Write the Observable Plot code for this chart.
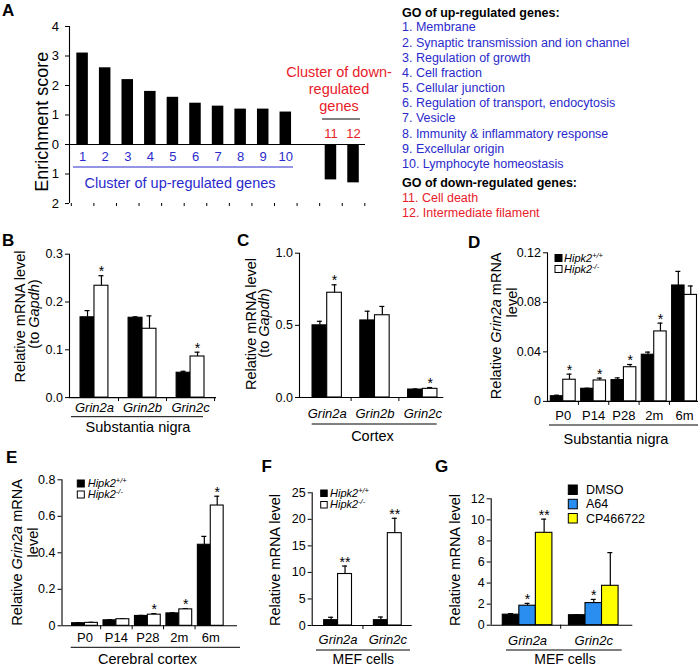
<!DOCTYPE html>
<html><head><meta charset="utf-8">
<script src="https://cdn.jsdelivr.net/npm/d3@7"></script>
<script src="https://cdn.jsdelivr.net/npm/@observablehq/plot@0.6"></script>
<style>
html,body{margin:0;padding:0;background:#fff;}
#fig{position:relative;width:700px;height:668px;overflow:hidden;font-family:"Liberation Sans",Arial,Helvetica,sans-serif;background:#fff;}
</style></head><body><div id="fig"></div>
<script>
// ---------------- DATA ----------------
// Panel A
const clusterIds = ["1","2","3","4","5","6","7","8","9","10","11","12"];
const clusterDirection = ["up","up","up","up","up","up","up","up","up","up","down","down"];
const enrichmentScores = [3.1, 2.6, 2.2, 1.8, 1.6, 1.4, 1.3, 1.2, 1.2, 1.1, -1.2, -1.3];
const enrichmentTicks = [-2, -1, 0, 1, 2, 3, 4];
const goUpTerms = ["Membrane","Synaptic transmission and ion channel","Regulation of growth","Cell fraction","Cellular junction","Regulation of transport, endocytosis","Vesicle","Immunity & inflammatory response","Excellular origin","Lymphocyte homeostasis"];
const goDownTerms = ["Cell death","Intermediate filament"];

// Panel B (substantia nigra)
const bGenes = ["Grin2a","Grin2b","Grin2c"];
const bWT = [0.168, 0.167, 0.052];
const bWTErr = [0.014, 0.002, 0.003];
const bKO = [0.234, 0.144, 0.086];
const bKOErr = [0.021, 0.027, 0.009];
const bKOSig = ["*", "", "*"];
const bTicks = [0, 0.1, 0.2, 0.3];

// Panel C (cortex)
const cGenes = ["Grin2a","Grin2b","Grin2c"];
const cWT = [0.50, 0.534, 0.055];
const cWTErr = [0.028, 0.064, 0.004];
const cKO = [0.726, 0.570, 0.060];
const cKOErr = [0.055, 0.061, 0.009];
const cKOSig = ["*", "", "*"];
const cTicks = [0, 0.5, 1.0];

// Panel D (substantia nigra, Grin2a by age)
const ages = ["P0","P14","P28","2m","6m"];
const dWT = [0.0042, 0.0102, 0.0172, 0.0377, 0.0936];
const dWTErr = [0.0008, 0.0004, 0.0018, 0.0021, 0.0114];
const dKO = [0.0175, 0.0169, 0.0276, 0.0565, 0.0860];
const dKOErr = [0.0045, 0.0019, 0.0022, 0.0067, 0.0072];
const dKOSig = ["*","*","*","*",""];
const dTicks = [0, 0.04, 0.08, 0.12];

// Panel E (cerebral cortex, Grin2a by age)
const eWT = [0.014, 0.030, 0.054, 0.068, 0.444];
const eWTErr = [0.003, 0.003, 0.003, 0.003, 0.046];
const eKO = [0.016, 0.036, 0.061, 0.090, 0.659];
const eKOErr = [0.003, 0.003, 0.006, 0.004, 0.051];
const eKOSig = ["","","*","*","*"];
const eTicks = [0, 0.2, 0.4, 0.6, 0.8];

// Panel F (MEF cells)
const fGenes = ["Grin2a","Grin2c"];
const fWT = [1.0, 1.0];
const fWTErr = [0.55, 0.6];
const fKO = [9.7, 17.4];
const fKOErr = [1.5, 2.8];
const fKOSig = ["**","**"];
const fTicks = [0, 5, 10, 15, 20, 25];

// Panel G (MEF cells, treatments)
const gGenes = ["Grin2a","Grin2c"];
const treatments = ["DMSO","A64","CP466722"];
const gDMSO = [1.0, 0.95];
const gDMSOErr = [0.1, 0.03];
const gA64 = [1.85, 2.1];
const gA64Err = [0.22, 0.35];
const gA64Sig = ["*","*"];
const gCP = [8.77, 3.74];
const gCPErr = [1.3, 3.15];
const gCPSig = ["**",""];
const gTicks = [0, 2, 4, 6, 8, 10, 12];

// ---------------- STYLE ----------------
const FONT = '"Liberation Sans", Arial, Helvetica, sans-serif';
const BLUE_TXT = "#2a2acc";
const RED_TXT = "#e8202a";
const BAR_BLUE = "#2a8ef0";
const BAR_YELLOW = "#ffff00";
const W = 700, H = 668;
const fig = document.getElementById("fig");

function basePlot({left, right, top, bottom, xDomain, yDomain, marks}) {
  const p = Plot.plot({
    width: W, height: H,
    marginLeft: left, marginRight: W - right, marginTop: top, marginBottom: H - bottom,
    x: {type: "linear", domain: xDomain},
    y: {type: "linear", domain: yDomain},
    style: {background: "transparent", fontFamily: FONT, fontSize: "12.5px", color: "black", overflow: "visible"},
    marks
  });
  p.style.position = "absolute"; p.style.left = "0px"; p.style.top = "0px";
  fig.appendChild(p);
}

function groupedPanel(cfg) {
  const {groups, series, left, right, top, bottom, xDomain, yDomain, yTicks, yFormat, barW, capPx = 2.5, labelPad, italicLabels, sepTicks} = cfg;
  const pxPerUnit = (right - left) / (xDomain[1] - xDomain[0]);
  const cap = capPx / pxPerUnit;
  const n = series.length;
  const marks = [];
  series.forEach((s, si) => {
    const rows = groups.map((g, gi) => ({
      group: g,
      xc: gi + (si - (n - 1) / 2) * barW,
      value: s.values[gi], err: s.errors[gi], sig: s.sig ? s.sig[gi] : ""
    }));
    marks.push(Plot.ruleX(rows, {x: "xc", y1: "value", y2: d => d.value + d.err, stroke: "black", strokeWidth: 1.2}));
    marks.push(Plot.ruleY(rows, {y: d => d.value + d.err, x1: d => d.xc - cap, x2: d => d.xc + cap, stroke: "black", strokeWidth: 1.2}));
    marks.push(Plot.rect(rows, {x1: d => d.xc - barW / 2, x2: d => d.xc + barW / 2, y1: 0, y2: "value", fill: s.fill, stroke: "black", strokeWidth: 1.1}));
    marks.push(Plot.text(rows.filter(d => d.sig), {x: "xc", y: d => d.value + d.err, text: "sig", dy: -4, fontSize: 14}));
  });
  marks.push(Plot.ruleY([0], {stroke: "black", strokeWidth: 1.1}));
  marks.push(Plot.ruleX([xDomain[0]], {stroke: "black", strokeWidth: 1.1}));
  marks.push(Plot.axisY({ticks: yTicks, tickFormat: yFormat, tickSize: 4, tickPadding: 2.5, label: null, fontSize: 12.5}));
  marks.push(Plot.axisX({ticks: groups.map((g, i) => i), tickFormat: i => groups[i], tickSize: 0, tickPadding: labelPad, fontSize: 13, fontStyle: italicLabels ? "italic" : "normal", label: null}));
  marks.push(Plot.axisX({ticks: sepTicks, tickFormat: () => "", tickSize: 4, label: null}));
  basePlot({left, right, top, bottom, xDomain, yDomain, marks});
}

// ---------------- PANEL A ----------------
{
  const rows = clusterIds.map((id, i) => ({
    id, dir: clusterDirection[i], value: enrichmentScores[i],
    slot: i + 1 + (clusterDirection[i] === "down" ? 1 : 0)
  }));
  const xDomain = [0.42, 13.53];
  const half = 0.255;
  basePlot({
    left: 69, right: 365, top: 26, bottom: 203, xDomain, yDomain: [-2, 4],
    marks: [
      Plot.rect(rows, {x1: d => d.slot - half, x2: d => d.slot + half, y1: 0, y2: "value", fill: "black"}),
      Plot.ruleY([0], {stroke: "black", strokeWidth: 1.1}),
      Plot.ruleX([xDomain[0]], {stroke: "black", strokeWidth: 1.1}),
      Plot.axisY({ticks: enrichmentTicks, tickFormat: d => String(Math.abs(d)), tickSize: 4, tickPadding: 6.5, label: null, fontSize: 13}),
      Plot.axisX({ticks: d3.range(0.5, 14, 1), tickFormat: () => "", tickSize: 3, label: null}),
      Plot.text(rows.filter(d => d.dir === "up"), {x: "slot", y: 0, text: "id", dy: 12, fill: BLUE_TXT, fontSize: 13}),
      Plot.text(rows.filter(d => d.dir === "down"), {x: "slot", y: 0, text: "id", dy: -11, fill: RED_TXT, fontSize: 13})
    ]
  });
}

// ---------------- PANELS B-G ----------------
const fmt1 = d3.format(".1f");
groupedPanel({
  groups: bGenes, left: 69, right: 216, top: 253.7, bottom: 397.1,
  xDomain: [-0.52, 2.54], yDomain: [0, 0.3], yTicks: bTicks, yFormat: fmt1,
  barW: 0.29, labelPad: 5.6, italicLabels: true, sepTicks: [0.5, 1.5, 2.5],
  series: [
    {values: bWT, errors: bWTErr, fill: "black"},
    {values: bKO, errors: bKOErr, sig: bKOSig, fill: "white"}
  ]
});
groupedPanel({
  groups: cGenes, left: 299, right: 443.3, top: 252.7, bottom: 397,
  xDomain: [-0.58, 2.44], yDomain: [0, 1], yTicks: cTicks, yFormat: fmt1,
  barW: 0.307, labelPad: 11, italicLabels: true, sepTicks: [0.5, 1.5],
  series: [
    {values: cWT, errors: cWTErr, fill: "black"},
    {values: cKO, errors: cKOErr, sig: cKOSig, fill: "white"}
  ]
});
groupedPanel({
  groups: ages, left: 547, right: 698, top: 252.3, bottom: 400.9,
  xDomain: [-0.52, 4.46], yDomain: [0, 0.12], yTicks: dTicks, yFormat: d => d === 0 ? "0" : d3.format(".2f")(d),
  barW: 0.41, labelPad: 9.5, italicLabels: false, sepTicks: [0.5, 1.5, 2.5, 3.5],
  series: [
    {values: dWT, errors: dWTErr, fill: "black"},
    {values: dKO, errors: dKOErr, sig: dKOSig, fill: "white"}
  ]
});
groupedPanel({
  groups: ages, left: 61.5, right: 237, top: 479.3, bottom: 625.3,
  xDomain: [-0.73, 4.85], yDomain: [0, 0.8], yTicks: eTicks, yFormat: d => d === 0 ? "0" : fmt1(d),
  barW: 0.41, labelPad: 7, italicLabels: false, sepTicks: [0.5, 1.5, 2.5, 3.5],
  series: [
    {values: eWT, errors: eWTErr, fill: "black"},
    {values: eKO, errors: eKOErr, sig: eKOSig, fill: "white"}
  ]
});
groupedPanel({
  groups: fGenes, left: 311.7, right: 411.7, top: 492.3, bottom: 625,
  xDomain: [-0.52, 1.49], yDomain: [0, 25], yTicks: fTicks, yFormat: d3.format("d"),
  barW: 0.28, labelPad: 9, italicLabels: true, sepTicks: [0.5],
  series: [
    {values: fWT, errors: fWTErr, fill: "black"},
    {values: fKO, errors: fKOErr, sig: fKOSig, fill: "white"}
  ]
});
groupedPanel({
  groups: gGenes, left: 490.7, right: 632.3, top: 498.3, bottom: 624.7,
  xDomain: [-0.55, 1.59], yDomain: [0, 12], yTicks: gTicks, yFormat: d3.format("d"),
  barW: 0.25, labelPad: 10.4, italicLabels: true, sepTicks: [0.5],
  series: [
    {values: gDMSO, errors: gDMSOErr, fill: "black"},
    {values: gA64, errors: gA64Err, sig: gA64Sig, fill: BAR_BLUE},
    {values: gCP, errors: gCPErr, sig: gCPSig, fill: BAR_YELLOW}
  ]
});

// ---------------- ANNOTATIONS ----------------
const ov = d3.select(fig).append("svg").attr("width", W).attr("height", H)
  .style("position", "absolute").style("left", "0px").style("top", "0px")
  .style("font-family", FONT);
function label(x, y, parts, {size = 12.5, anchor = "start", fill = "black", weight = "normal", rotate = 0} = {}) {
  const t = ov.append("text")
    .attr("transform", `translate(${x},${y})` + (rotate ? ` rotate(${rotate})` : ""))
    .attr("text-anchor", anchor).attr("font-size", size).attr("fill", fill).attr("font-weight", weight);
  (Array.isArray(parts) ? parts : [parts]).forEach(p => {
    if (typeof p === "string") t.append("tspan").text(p);
    else {
      const s = t.append("tspan").text(p.t);
      if (p.i) s.attr("font-style", "italic");
      if (p.sup) s.attr("font-size", p.sup).attr("dy", -4);
    }
  });
}
function hline(x1, x2, y, color = "black") {
  ov.append("line").attr("x1", x1).attr("x2", x2).attr("y1", y).attr("y2", y).attr("stroke", color).attr("stroke-width", 1);
}
function swatch(x, y, w, h, fill) {
  ov.append("rect").attr("x", x).attr("y", y).attr("width", w).attr("height", h).attr("fill", fill).attr("stroke", "black").attr("stroke-width", 1);
}

// panel letters
[["A", 2, 15.5], ["B", 2, 245.5], ["C", 237, 245.7], ["D", 468, 248.3], ["E", 6, 463.3], ["F", 261.5, 471.7], ["G", 435, 471.7]]
  .forEach(([t, x, y]) => label(x, y, t, {size: 17, weight: "bold"}));

// Panel A annotations
label(48, 121.7, "Enrichment score", {size: 18, anchor: "middle", rotate: -90});
hline(73, 293, 167, BLUE_TXT);
label(180, 188.2, "Cluster of up-regulated genes", {size: 14.5, anchor: "middle", fill: BLUE_TXT});
label(339, 77, "Cluster of down-", {size: 14.5, anchor: "middle", fill: RED_TXT});
label(339, 94, "regulated", {size: 14.5, anchor: "middle", fill: RED_TXT});
label(339, 110.5, "genes", {size: 14.5, anchor: "middle", fill: RED_TXT});
hline(322, 360, 119, "black");

// GO lists
{
  const x = 402;
  label(x, 17.2, "GO of up-regulated genes:", {size: 12.5, weight: "bold"});
  const ys = [31.2, 46.8, 61.8, 76.8, 92.2, 107.2, 122.2, 137.5, 152.5, 167.8];
  goUpTerms.forEach((t, i) => label(x, ys[i], `${i + 1}. ${t}`, {size: 12.5, fill: BLUE_TXT}));
  label(x, 187.2, "GO of down-regulated genes:", {size: 12.5, weight: "bold"});
  [202.2, 216.8].forEach((y, i) => label(x, y, `${i + 11}. ${goDownTerms[i]}`, {size: 12.5, fill: RED_TXT}));
}

// Axis titles
label(25, 316.5, "Relative mRNA level", {size: 14.5, anchor: "middle", rotate: -90});
label(38.5, 314, ["(to ", {t: "Gapdh", i: true}, ")"], {size: 14.5, anchor: "middle", rotate: -90});
label(255.5, 324, "Relative mRNA level", {size: 14.5, anchor: "middle", rotate: -90});
label(269, 323, ["(to ", {t: "Gapdh", i: true}, ")"], {size: 14.5, anchor: "middle", rotate: -90});
label(501, 325.8, ["Relative ", {t: "Grin2a", i: true}, " mRNA"], {size: 14.5, anchor: "middle", rotate: -90});
label(516.5, 302.5, "level", {size: 14.5, anchor: "middle", rotate: -90});
label(21.5, 552.5, ["Relative ", {t: "Grin2a", i: true}, " mRNA"], {size: 14.5, anchor: "middle", rotate: -90});
label(38, 542.5, "level", {size: 14.5, anchor: "middle", rotate: -90});
label(280, 560, "Relative mRNA level", {size: 14.5, anchor: "middle", rotate: -90});
label(460, 560, "Relative mRNA level", {size: 14.5, anchor: "middle", rotate: -90});

// Group titles + underlines
hline(71, 203, 416.7); label(138, 432, "Substantia nigra", {size: 14.5, anchor: "middle"});
hline(311.7, 436.7, 424); label(372.5, 441, "Cortex", {size: 14.5, anchor: "middle"});
hline(549, 698, 425); label(616, 443.5, "Substantia nigra", {size: 14.5, anchor: "middle"});
hline(70.7, 240, 647.3); label(147.5, 663.8, "Cerebral cortex", {size: 14.5, anchor: "middle"});
hline(316, 410, 650); label(363.3, 664.3, "MEF cells", {size: 14, anchor: "middle"});
hline(506, 621.7, 650); label(565, 664.3, "MEF cells", {size: 14, anchor: "middle"});

// Genotype legends
function genoLegend(x, y1, y2, s, tx) {
  swatch(x, y1, s, s, "black");
  swatch(x, y2, s, s, "white");
  label(tx, y1 + s, [{t: "Hipk2", i: true}, {t: "+/+", i: true, sup: 7.5}], {size: 11});
  label(tx, y2 + s, [{t: "Hipk2", i: true}, {t: "-/-", i: true, sup: 7.5}], {size: 11});
}
genoLegend(555, 254.5, 265.5, 7, 564);
genoLegend(77.3, 480, 491, 7, 87.7);
genoLegend(320.7, 490, 501.5, 6.5, 330);

// Treatment legend (G)
{
  const fills = ["black", BAR_BLUE, BAR_YELLOW];
  const ys = [485, 499.3, 513.5];
  treatments.forEach((t, i) => {
    swatch(568.3, ys[i], 9, 9.5, fills[i]);
    label(586, ys[i] + 9, t, {size: 12.5});
  });
}
</script></body></html>
